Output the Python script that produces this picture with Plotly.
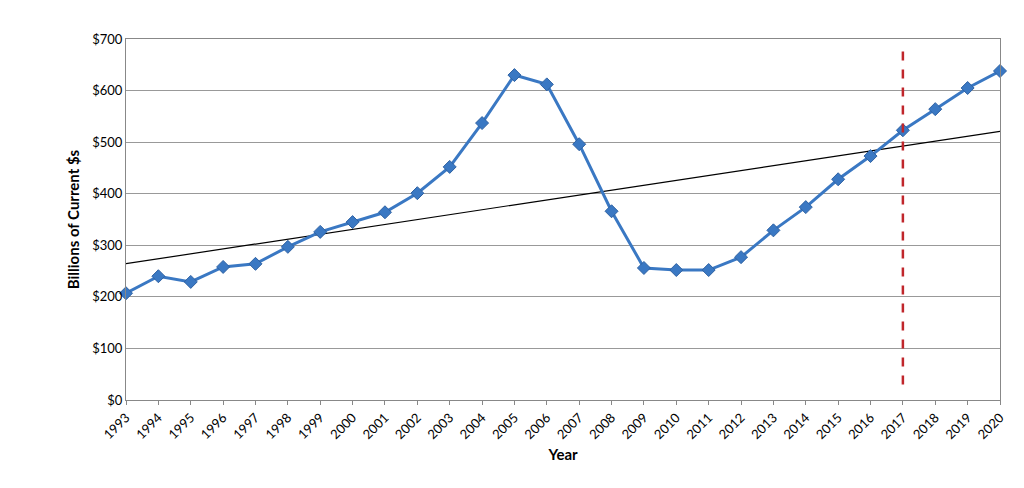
import numpy as np
import plotly.graph_objects as go

years = list(range(1993, 2021))
values = [207, 240, 229, 258, 264, 297, 326, 345, 364, 401, 452, 537, 630, 612,
          496, 366, 256, 252, 252, 277, 329, 374, 428, 473, 523, 564, 605, 638]
marker_year = 2017

# linear trend through the series
slope, intercept = np.polyfit(years, values, 1)
trend = [slope * y + intercept for y in years]

fig = go.Figure()
fig.add_trace(go.Scatter(x=years, y=trend, mode='lines',
                         line=dict(color='black', width=1.2), hoverinfo='skip'))
fig.add_trace(go.Scatter(x=years, y=values, mode='lines+markers', cliponaxis=False,
                         line=dict(color='#3a78c3', width=3),
                         marker=dict(symbol='diamond', size=10, color='#3a78c3',
                                     line=dict(color='#2f62a3', width=1))))
fig.add_shape(type='line', x0=marker_year, x1=marker_year, y0=30, y1=690,
              line=dict(color='#c0262b', width=2.5, dash='dash'))

font_family = 'Lato, DejaVu Sans, sans-serif'
fig.update_layout(
    width=1024, height=488,
    margin=dict(l=118, r=32, t=31, b=96, autoexpand=False),
    plot_bgcolor='white', paper_bgcolor='white',
    showlegend=False,
    font=dict(family=font_family, size=13, color='black'),
    xaxis=dict(range=[1993, 2020], tickvals=years, ticktext=[str(y) for y in years],
               tickangle=-45, showgrid=False, showline=True, linecolor='#888',
               mirror=True, ticks='outside', ticklen=4, tickcolor='#888', automargin=False,
               title=dict(text='<b>Year</b>', font=dict(size=15), standoff=8)),
    yaxis=dict(range=[0, 700], dtick=100, tickprefix='$', showgrid=True,
               gridcolor='#999', gridwidth=1, showline=True, linecolor='#888',
               mirror=True, zeroline=False, automargin=False,
               title=dict(text='<b>Billions of Current $s</b>', font=dict(size=15), standoff=8)),
)

fig.write_html("out.html")
